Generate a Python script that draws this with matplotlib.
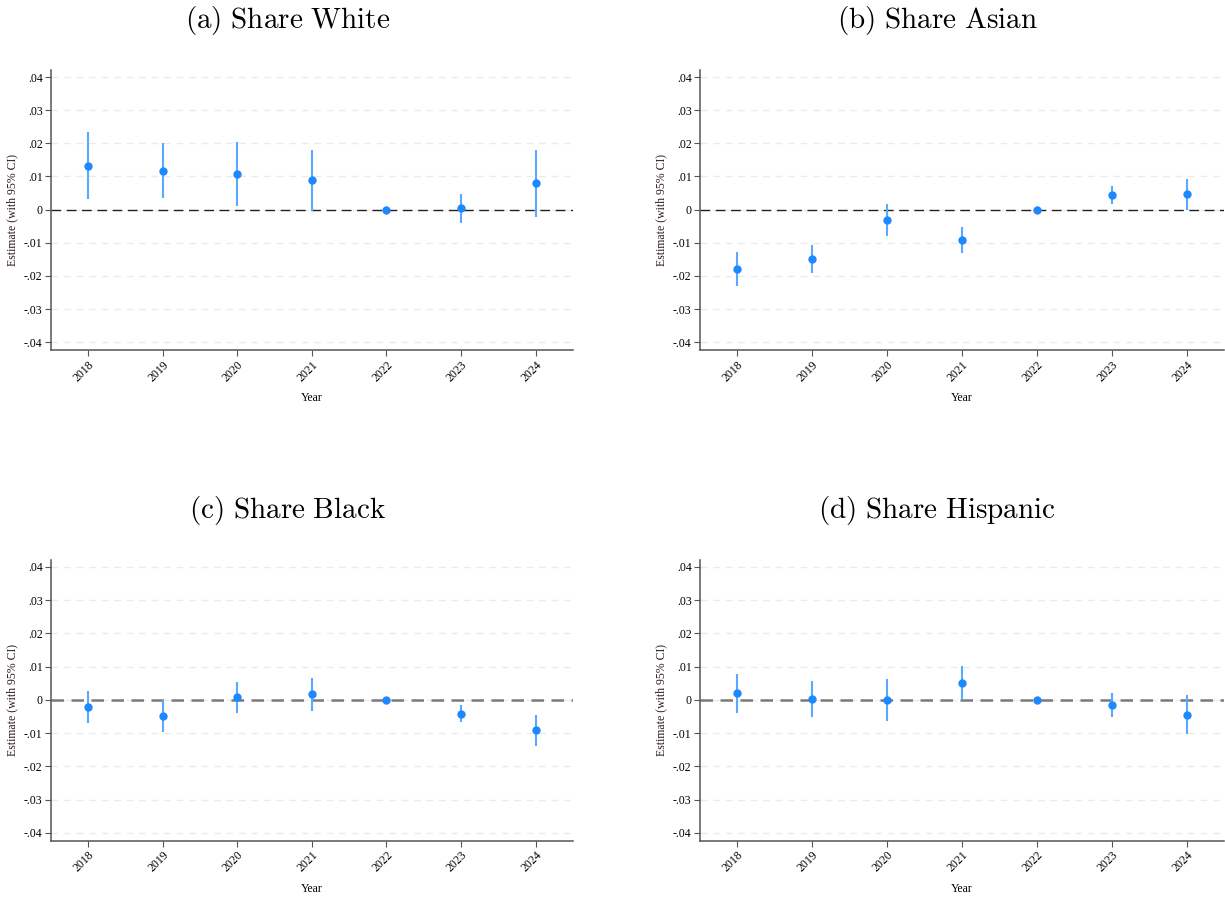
import matplotlib.pyplot as plt

plt.rcParams['mathtext.fontset'] = 'cm'

years = [2018, 2019, 2020, 2021, 2022, 2023, 2024]

#point estimates and 95% CI bounds
white_est = [0.0133, 0.0118, 0.0107, 0.0089, 0.0, 0.0004, 0.0080]
white_lo = [0.0032, 0.0035, 0.0010, -0.0004, 0.0, -0.0040, -0.0022]
white_hi = [0.0235, 0.0202, 0.0205, 0.0180, 0.0, 0.0048, 0.0181]

asian_est = [-0.0179, -0.0150, -0.0031, -0.0092, 0.0, 0.0044, 0.0047]
asian_lo = [-0.0230, -0.0192, -0.0079, -0.0132, 0.0, 0.0018, 0.0]
asian_hi = [-0.0128, -0.0108, 0.0016, -0.0053, 0.0, 0.0070, 0.0092]

black_est = [-0.0021, -0.0049, 0.0008, 0.0017, 0.0, -0.0041, -0.0091]
black_lo = [-0.0069, -0.0096, -0.0039, -0.0032, 0.0, -0.0067, -0.0137]
black_hi = [0.0027, 0.0, 0.0054, 0.0067, 0.0, -0.0015, -0.0044]

hisp_est = [0.0020, 0.0003, 0.0, 0.0050, 0.0, -0.0015, -0.0044]
hisp_lo = [-0.0038, -0.0050, -0.0063, 0.0, 0.0, -0.0051, -0.0103]
hisp_hi = [0.0078, 0.0057, 0.0064, 0.0103, 0.0, 0.0021, 0.0015]

titles = ['(a)\\ Share\\ White', '(b)\\ Share\\ Asian',
          '(c)\\ Share\\ Black', '(d)\\ Share\\ Hispanic']
yticks = [-0.04, -0.03, -0.02, -0.01, 0, 0.01, 0.02, 0.03, 0.04]
ytick_labels = ['-.04', '-.03', '-.02', '-.01', '0', '.01', '.02', '.03', '.04']

panels = [
    (white_est, white_lo, white_hi),
    (asian_est, asian_lo, asian_hi),
    (black_est, black_lo, black_hi),
    (hisp_est, hisp_lo, hisp_hi),
]

#axes boxes in figure fraction [left, bottom, width, height]
boxes = [
    [0.0416, 0.610, 0.426, 0.312],
    [0.5714, 0.610, 0.428, 0.312],
    [0.0416, 0.0635, 0.426, 0.313],
    [0.5714, 0.0635, 0.428, 0.313],
]
#title centres (figure fraction), centred over each sub-figure
title_pos = [(0.235, 0.977), (0.765, 0.977), (0.235, 0.432), (0.765, 0.432)]

fig = plt.figure(figsize=(12.25, 8.98), dpi=100)
serif = 'Liberation Serif'

for i, (est, lo, hi) in enumerate(panels):
    ax = fig.add_axes(boxes[i])

    #background grid
    for t in yticks:
        ax.axhline(t, color='#ebebeb', lw=1, ls=(0, (5, 4)), zorder=0)

    #zero reference line (top row thin black, bottom row thick grey)
    if i < 2:
        ax.axhline(0, color='#222222', lw=1, ls=(0, (7, 4)), zorder=1)
    else:
        ax.axhline(0, color='#7a7a7a', lw=1.8, ls=(0, (5, 3)), zorder=1)

    ax.vlines(years, lo, hi, color='#5aa8ff', lw=1.5, zorder=2)
    ax.plot(years, est, 'o', color='#1e88ff', ms=5, zorder=3)

    ax.set_xlim(2017.5, 2024.5)
    ax.set_ylim(-0.0424, 0.0421)
    ax.set_yticks(yticks)
    ax.set_yticklabels(ytick_labels, fontsize=8.5, family=serif)
    ax.set_xticks(years)
    ax.set_xticklabels([str(y) for y in years], rotation=45, ha='right',
                       rotation_mode='anchor', fontsize=8.5, family=serif)
    ax.set_xlabel('Year', fontsize=8.5, family=serif, labelpad=6)
    ax.set_ylabel('Estimate (with 95% CI)', fontsize=8.5, family=serif,
                  color='#2a1a1a', labelpad=4)

    for side in ['top', 'right']:
        ax.spines[side].set_visible(False)
    for side in ['left', 'bottom']:
        ax.spines[side].set_color('#555555')
        ax.spines[side].set_linewidth(1.1)
    ax.tick_params(axis='both', length=4, width=0.8, color='#555555', pad=2)

    tx, ty = title_pos[i]
    fig.text(tx, ty, '$\\mathrm{' + titles[i] + '}$', fontsize=21,
             ha='center', va='center')

plt.savefig('out.png', dpi=100)
